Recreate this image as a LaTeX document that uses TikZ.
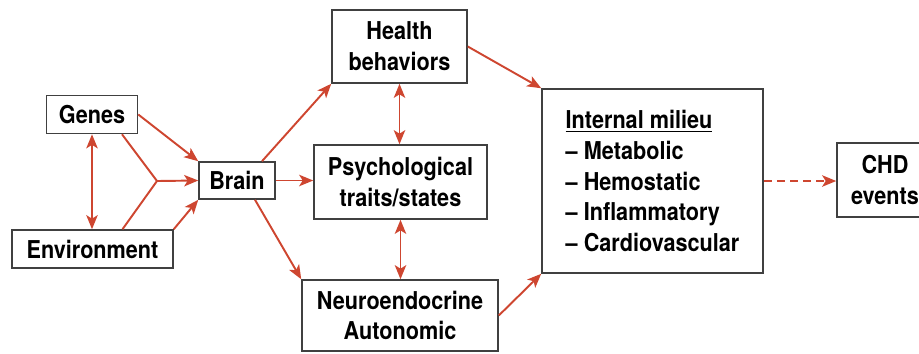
\documentclass[tikz,border=0pt]{standalone}
\usepackage{fontspec}
\setmainfont{TeX Gyre Heros}[FakeStretch=0.88]
\usetikzlibrary{arrows.meta}
\definecolor{linkred}{RGB}{206,70,48}
\begin{document}
\begin{tikzpicture}[x=0.02cm,y=-0.02cm,
    box/.style={draw=black!75, line width=0.9pt, inner sep=2pt, align=center,
      font=\fontsize{14}{17.5}\selectfont\bfseries},
    link/.style={draw=linkred, line width=1.1pt},
    >={Stealth[length=8pt,width=6.5pt,inset=2pt]}]
  \useasboundingbox (0,0) rectangle (919,353);
  % left side
  \node[box, minimum width=1.82cm, minimum height=0.76cm] (genes) at (92,114.5) {Genes};
  \node[box, minimum width=3.22cm, minimum height=0.76cm] (env) at (92.5,249) {Environment};
  \node[box, minimum width=1.52cm, minimum height=0.74cm] (brain) at (237,180.5) {Brain};
  \coordinate (fork) at (157,181);
  % middle column
  \node[box, minimum width=2.70cm, minimum height=1.46cm] (health) at (399.5,46.5) {Health\\behaviors};
  \node[box, minimum width=3.46cm, minimum height=1.48cm] (psych) at (400.5,182) {Psychological\\traits/states};
  \node[box, minimum width=3.92cm, minimum height=1.42cm] (neuro) at (400,315.5) {Neuroendocrine\\Autonomic};
  % right side
  \node[box, align=left, minimum width=4.42cm, minimum height=3.68cm] (milieu) at (652.5,181)
    {\underline{Internal milieu}\\– Metabolic\\– Hemostatic\\– Inflammatory\\– Cardiovascular};
  \node[box, minimum width=1.92cm, minimum height=1.48cm] (chd) at (885,180) {CHD\\events};
  % connectors
  \draw[link,<->] (genes.south) -- (genes.south |- env.north);
  \draw[link,->] (genes.east) -- (brain.north west);
  \draw[link] ([xshift=0.6cm]genes.south) -- (fork);
  \draw[link] ([xshift=0.6cm]env.north) -- (fork);
  \draw[link,->] (fork) -- (brain.west);
  \draw[link,->] (env.north east) -- (brain.south west);
  \draw[link,->] ([xshift=0.5cm]brain.north) -- (health.south west);
  \draw[link,->] (brain.east) -- (brain.east -| psych.west);
  \draw[link,->] ([xshift=0.36cm]brain.south) -- (neuro.north west);
  \draw[link,<->] (health.south) -- (health.south |- psych.north);
  \draw[link,<->] (psych.south) -- (psych.south |- neuro.north);
  \draw[link,->] (health.east) -- (milieu.north west);
  \draw[link,->] (neuro.east) -- (milieu.south west);
  \draw[link,->,dash pattern=on 4.5pt off 3pt] (milieu.east) -- (milieu.east -| chd.west);
\end{tikzpicture}
\end{document}
